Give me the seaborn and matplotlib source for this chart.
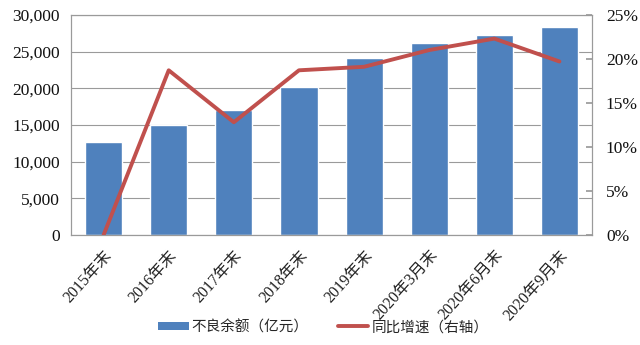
import matplotlib
matplotlib.use("Agg")
import matplotlib.pyplot as plt
import seaborn as sns
import pandas as pd
from matplotlib.ticker import FuncFormatter, MultipleLocator
from matplotlib.lines import Line2D
from matplotlib.patches import Patch

categories = ["2015年末", "2016年末", "2017年末", "2018年末", "2019年末",
              "2020年3月末", "2020年6月末", "2020年9月末"]
npl_balance = [12700, 15000, 17000, 20200, 24100, 26100, 27300, 28300]
yoy_growth = [0.0, 18.7, 12.8, 18.7, 19.1, 21.0, 22.3, 19.7]

sns.set_theme(style="white")
plt.rcParams['font.family'] = ['Liberation Serif', 'Noto Sans CJK SC']

df = pd.DataFrame({"cat": categories, "bal": npl_balance, "yoy": yoy_growth})

fig = plt.figure(figsize=(6.4, 3.45), dpi=100)
ax = fig.add_axes([0.111, 0.319, 0.814, 0.638])
bar_color = "#4F81BD"
line_color = "#C0504D"
sns.barplot(data=df, x="cat", y="bal", color=bar_color, width=0.57,
            saturation=1, ax=ax, zorder=2)
ax.set_ylim(0, 30000)
ax.yaxis.set_major_locator(MultipleLocator(5000))
ax.yaxis.set_major_formatter(FuncFormatter(lambda v, p: f"{int(v):,}"))
ax.set_xlim(-0.5, 7.5)
ax.grid(axis="y", color="#9a9a9a", linewidth=0.8, zorder=0)
ax.set_axisbelow(True)
ax.set_xlabel("")
ax.set_ylabel("")
for s in ax.spines.values():
    s.set_color("#9a9a9a")
    s.set_linewidth(0.8)
ax.tick_params(axis="y", length=0, labelsize=12.5, colors="#111111", pad=8)
ax.tick_params(axis="x", length=0, labelsize=11.5, colors="#222222", pad=9)
for lbl in ax.get_xticklabels():
    lbl.set_rotation(48)
    lbl.set_ha("right")
    lbl.set_rotation_mode("anchor")

ax2 = ax.twinx()
sns.lineplot(data=df, x="cat", y="yoy", color=line_color, linewidth=2.8,
             ax=ax2, sort=False)
ax2.set_ylim(0, 25)
ax2.yaxis.set_major_locator(MultipleLocator(5))
ax2.yaxis.set_major_formatter(FuncFormatter(lambda v, p: f"{int(v)}%"))
ax2.set_ylabel("")
ax2.tick_params(axis="y", direction="in", length=4, color="#9a9a9a",
                labelsize=12.5, colors="#111111", pad=10)
ax2.tick_params(axis="y", color="#9a9a9a")
for s in ax2.spines.values():
    s.set_color("#9a9a9a")
    s.set_linewidth(0.8)
ax2.set_xlim(-0.5, 7.5)

handles = [Patch(facecolor=bar_color, edgecolor="none"),
           Line2D([0], [0], color=line_color, linewidth=2.8)]
labels = ["不良余额（亿元）", "同比增速（右轴）"]
fig.legend(handles, labels, loc="center", bbox_to_anchor=(0.505, 0.052),
           ncol=2, frameon=False, handlelength=2.1,
           handleheight=0.55, columnspacing=2.0, handletextpad=0.2,
           prop={"family": ["Noto Sans CJK SC"], "size": 10.5})

fig.savefig("out.png", dpi=100)
